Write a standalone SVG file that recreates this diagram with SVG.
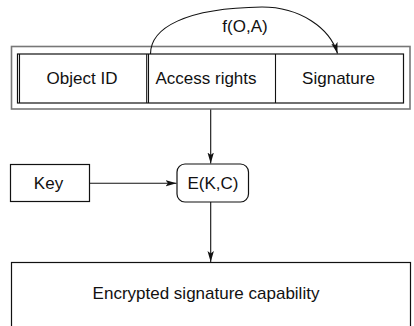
<svg xmlns="http://www.w3.org/2000/svg" width="414" height="326" viewBox="0 0 414 326">
<style>
text{font-family:"Liberation Sans",Arial,sans-serif;font-size:17px;fill:#111;text-anchor:middle}
.box{fill:#fff;stroke:#111;stroke-width:1.2}
.outer{fill:#fff;stroke:#777;stroke-width:1.6}
.ln{fill:none;stroke:#111;stroke-width:1.1}
</style>
<defs>
<marker id="ah" markerWidth="12" markerHeight="8" refX="11" refY="4" orient="auto" markerUnits="userSpaceOnUse">
<path d="M0,0.8 L11,4 L0,7.2 L2.5,4 Z" fill="#111"/>
</marker>
</defs>
<rect width="414" height="326" fill="#fff"/>
<g id="capability">
<rect class="outer" x="11.5" y="46.5" width="398.5" height="62.5"/>
<rect class="box" x="17.5" y="54" width="386" height="49"/>
<line class="ln" x1="19.5" y1="54" x2="19.5" y2="103" stroke-width="0.9"/>
<line class="ln" x1="146.7" y1="54" x2="146.7" y2="103" stroke-width="0.9"/>
<line class="ln" x1="148.5" y1="54" x2="148.5" y2="103" stroke-width="0.9"/>
<line class="ln" x1="275.5" y1="54" x2="275.5" y2="103" stroke-width="1.2"/>
</g>
<g id="object-id"><text x="82" y="84">Object ID</text></g>
<g id="access-rights"><text x="206" y="84">Access rights</text></g>
<g id="signature"><text x="338.5" y="84">Signature</text></g>
<g id="key">
<rect class="box" x="10.5" y="164.5" width="79" height="37"/>
<text x="48.5" y="189">Key</text>
</g>
<g id="encrypt">
<rect class="box" x="177" y="164" width="71.5" height="38" rx="8" ry="8"/>
<text x="213" y="189">E(K,C)</text>
</g>
<g id="result">
<rect class="box" x="11.5" y="262.5" width="399" height="80"/>
<text x="206" y="299">Encrypted signature capability</text>
</g>
<g id="connectors">
<path class="ln" d="M150.5,54 C150.5,28 185,8 262,7 C300,7 330,28 337.5,53.5" marker-end="url(#ah)"/>
<text x="245" y="32">f(O,A)</text>
<line class="ln" x1="210.7" y1="109.5" x2="210.7" y2="163.5" marker-end="url(#ah)"/>
<line class="ln" x1="89.5" y1="183.3" x2="176.5" y2="183.3" marker-end="url(#ah)"/>
<line class="ln" x1="210.7" y1="202" x2="210.7" y2="262" marker-end="url(#ah)"/>
</g>
</svg>
